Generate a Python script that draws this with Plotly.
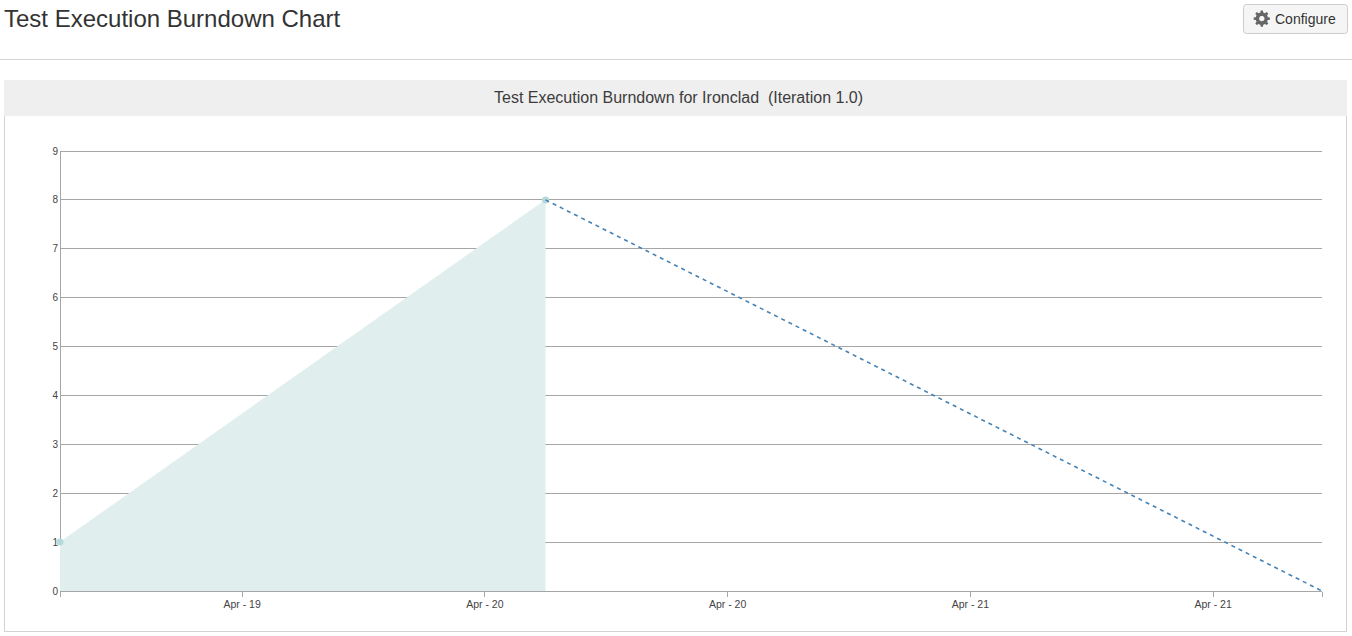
import math
import plotly.graph_objects as go

page_title = "Test Execution Burndown Chart"
panel_title = "Test Execution Burndown for Ironclad \u00a0(Iteration 1.0)"
button_label = "Configure"

actual_dates = ["2016-04-19 03:00", "2016-04-20 03:00"]
actual_values = [1, 8]
ideal_dates = ["2016-04-20 03:00", "2016-04-21 17:23"]
ideal_values = [8, 0]

y_ticks = [0, 1, 2, 3, 4, 5, 6, 7, 8, 9]
x_tick_dates = ["2016-04-19 03:00", "2016-04-19 12:00", "2016-04-20 00:00",
                "2016-04-20 12:00", "2016-04-21 00:00", "2016-04-21 12:00",
                "2016-04-21 17:23"]
x_tick_labels = ["", "Apr - 19", "Apr - 20", "Apr - 20", "Apr - 21", "Apr - 21", ""]

W, H = 1352, 636
L, R, T, B = 60, 1322, 151, 591
FONT = "Liberation Sans, Arial, sans-serif"
AXIS = "#a6a6a6"


def px(x):
    return (x - L) / (R - L)


def py(y):
    return (B - y) / (B - T)


fig = go.Figure()
fig.add_trace(go.Scatter(
    x=actual_dates, y=actual_values, mode="lines+markers", fill="tozeroy",
    fillcolor="#e0eeed", line=dict(color="#e0eeed", width=0.5),
    marker=dict(color="#b5dadb", size=7), cliponaxis=False, hoverinfo="x+y",
))
fig.add_trace(go.Scatter(
    x=ideal_dates, y=ideal_values, mode="lines",
    line=dict(color="#4682b4", width=1.6, dash="4px,4px"),
    cliponaxis=False, hoverinfo="x+y",
))


def rect(x0, y0, x1, y1, **kw):
    return dict(type="rect", xref="paper", yref="paper", x0=px(x0), x1=px(x1),
                y0=py(y1), y1=py(y0), layer="below", **kw)


def hline(x0, x1, y, color):
    return dict(type="line", xref="paper", yref="paper", x0=px(x0), x1=px(x1),
                y0=py(y), y1=py(y), layer="below", line=dict(color=color, width=1))


def vline(x, y0, y1, color):
    return dict(type="line", xref="paper", yref="paper", x0=px(x), x1=px(x),
                y0=py(y0), y1=py(y1), layer="below", line=dict(color=color, width=1))


def rounded(x0, y0, x1, y1, r):
    a, b, c, d = px(x0), px(x1), py(y0), py(y1)
    rx, ry = r / (R - L), r / (B - T)
    return dict(
        type="path", xref="paper", yref="paper", layer="below",
        path=(f"M {a+rx} {c} L {b-rx} {c} Q {b} {c} {b} {c-ry} L {b} {d+ry} "
              f"Q {b} {d} {b-rx} {d} L {a+rx} {d} Q {a} {d} {a} {d+ry} "
              f"L {a} {c-ry} Q {a} {c} {a+rx} {c} Z"),
        fillcolor="#f5f5f5", line=dict(color="#cccccc", width=1),
    )


def gear(cx, cy, r_out, r_root, r_hole, teeth=8):
    pts = []
    step = 2 * math.pi / teeth
    for i in range(teeth):
        c = i * step
        for ang, rad in ((c - 0.30 * step, r_root), (c - 0.17 * step, r_out),
                         (c + 0.17 * step, r_out), (c + 0.30 * step, r_root)):
            pts.append((cx + rad * math.cos(ang), cy + rad * math.sin(ang)))
    outer = "M " + " L ".join(f"{px(a)} {py(b)}" for a, b in pts) + " Z"
    hole_pts = [(cx + r_hole * math.cos(k * math.pi / 8), cy + r_hole * math.sin(k * math.pi / 8))
                for k in range(16)]
    hole = "M " + " L ".join(f"{px(a)} {py(b)}" for a, b in hole_pts) + " Z"
    return dict(type="path", xref="paper", yref="paper", layer="above",
                path=outer + " " + hole, fillcolor="#666666", line=dict(width=0))


shapes = [
    hline(0, W, 59.5, "#d5d5d5"),
    rect(4, 80, 1347, 116, fillcolor="#efefef", line=dict(width=0)),
    vline(4.5, 116, 631.5, "#d2d2d2"),
    vline(1346.5, 116, 631.5, "#d2d2d2"),
    hline(4, 1347, 631.5, "#d2d2d2"),
    rounded(1243.5, 4.5, 1347.5, 33.5, 3),
    vline(60.5, 151, 591, AXIS),
    hline(60, 1322, 151.5, AXIS),
    gear(1261.8, 18.6, 8.2, 6.2, 2.7),
]


def text(x, y, s, size, color, anchor="left", family=FONT):
    return dict(xref="paper", yref="paper", x=px(x), y=py(y), text=s, showarrow=False,
                xanchor=anchor, yanchor="middle", font=dict(family=family, size=size, color=color))


annotations = [
    text(2, 19, page_title, 24, "#333333"),
    text(678.5, 97.4, panel_title, 16, "#3c3c3c", "center"),
    text(1273, 19, button_label, 14, "#333333"),
]

fig.update_layout(
    width=W, height=H, autosize=False,
    margin=dict(l=L, r=W - R, t=T, b=H - B),
    paper_bgcolor="white", plot_bgcolor="white", showlegend=False,
    shapes=shapes, annotations=annotations,
    font=dict(family=FONT, size=10, color="#444444"),
    xaxis=dict(
        type="date", range=[x_tick_dates[0], x_tick_dates[-1]],
        tickmode="array", tickvals=x_tick_dates, ticktext=x_tick_labels,
        showgrid=False, zeroline=False, showline=True, linecolor=AXIS, linewidth=1,
        ticks="outside", ticklen=5, tickcolor=AXIS, tickwidth=1,
        ticklabelstandoff=-2, tickfont=dict(size=10.5),
    ),
    yaxis=dict(
        range=[0, 9], tickmode="array", tickvals=y_ticks,
        showgrid=True, gridcolor=AXIS, gridwidth=1, zeroline=False,
        showline=False, ticks="", ticklabelstandoff=1,
    ),
)

fig.write_html(
    "out.html",
    config={"displayModeBar": False},
    post_script="document.body.style.margin='0';document.body.style.overflow='hidden';",
)
